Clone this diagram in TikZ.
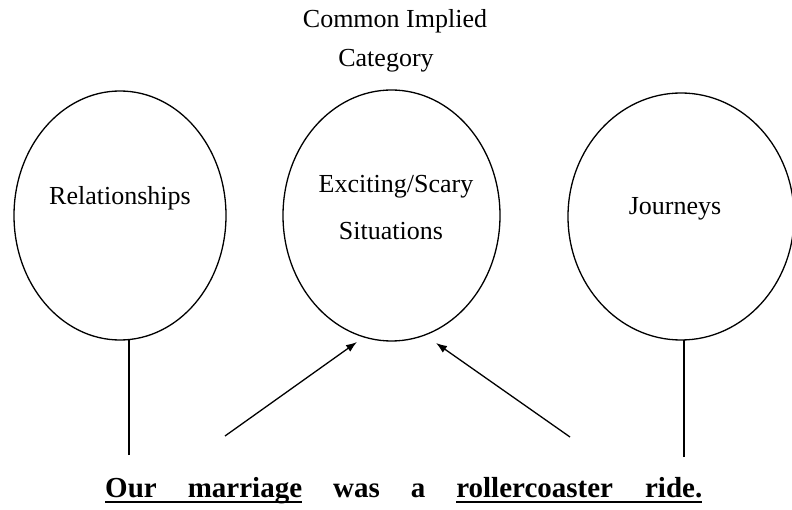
\documentclass[tikz,border=0pt]{standalone}
\usepackage{fontspec}
\setmainfont{Liberation Serif}
\usetikzlibrary{shapes.geometric,arrows.meta}
\tikzset{
  bubble/.style={draw, ellipse, line width=1.3pt, inner sep=0pt, outer sep=0pt},
  lbl/.style={anchor=base, inner sep=0pt, font=\fontsize{26}{30}\selectfont},
  word/.style={anchor=base west, inner sep=0pt, font=\fontsize{29}{33}\selectfont\bfseries},
  link/.style={line width=1.3pt},
  pointer/.style={line width=1.3pt, -{Latex[length=11pt,width=8pt]}},
  uline/.style={line width=2pt}
}
\begin{document}
\begin{tikzpicture}[x=1pt,y=-1pt]
\useasboundingbox (0,0) rectangle (792,510);
\begin{scope}
\clip (0,0) rectangle (792,510);
% titles
\node[lbl] (t1) at (395,28) {Common Implied};
\node[lbl] (t2) at (386,67) {Category};
% ellipses
\node[bubble, minimum width=212pt, minimum height=249pt] (rel) at (120,215.5) {};
\node[bubble, minimum width=217pt, minimum height=251pt] (exc) at (391.5,215.5) {};
\node[bubble, minimum width=226pt, minimum height=247pt] (jou) at (681,216.5) {};
% labels
\node[lbl] (relt) at (120,205) {Relationships};
\node[lbl] (exct1) at (396,193) {Exciting/Scary};
\node[lbl] (exct2) at (391,240) {Situations};
\node[lbl] (jout) at (675,215) {Journeys};
\end{scope}
% sentence
\node[word] (w1) at (105,497) {Our};
\node[word] (w2) at (187.6,497) {marriage};
\node[word] (w3) at (332.9,497) {was};
\node[word] (w4) at (410.6,497) {a};
\node[word] (w5) at (456.1,497) {rollercoaster};
\node[word] (w6) at (644.9,497) {ride.};
\draw[uline] ([yshift=-5pt]w1.base west) -- ([yshift=-5pt]w2.base east);
\draw[uline] ([yshift=-5pt]w5.base west) -- ([yshift=-5pt]w6.base east);
% connectors
\coordinate (lb) at (129,455);
\coordinate (rb) at (684,457);
\draw[link] (lb) -- (lb |- rel.south);
\draw[link] (rb) -- (rb |- jou.south);
\coordinate (a1s) at (225,436);
\coordinate (a1e) at (357,342);
\coordinate (a2s) at (570,437);
\coordinate (a2e) at (436,343);
\draw[pointer] (a1s) -- (a1e);
\draw[pointer] (a2s) -- (a2e);
\end{tikzpicture}
\end{document}
